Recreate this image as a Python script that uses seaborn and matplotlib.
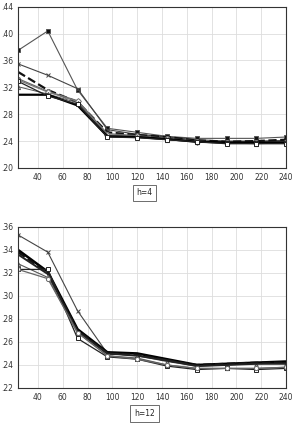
import numpy as np
import pandas as pd
import seaborn as sns
import matplotlib.pyplot as plt
from matplotlib.ticker import FuncFormatter

sns.set_theme(style="whitegrid")
plt.rcParams['font.family'] = ['DejaVu Sans']

horizons = [24, 48, 72, 96, 120, 144, 168, 192, 216, 240]

# h=4 panel
h4_sq_filled = [0.375, 0.404, 0.316, 0.259, 0.253, 0.247, 0.244, 0.244, 0.244, 0.246]
h4_cross = [0.355, 0.338, 0.318, 0.257, 0.250, 0.246, 0.242, 0.240, 0.240, 0.241]
h4_dashed = [0.343, 0.316, 0.298, 0.253, 0.249, 0.246, 0.241, 0.239, 0.240, 0.242]
h4_circle = [0.333, 0.314, 0.300, 0.251, 0.248, 0.244, 0.240, 0.238, 0.238, 0.239]
h4_diamond = [0.331, 0.313, 0.299, 0.249, 0.247, 0.243, 0.239, 0.237, 0.237, 0.238]
h4_triangle = [0.321, 0.310, 0.297, 0.248, 0.246, 0.242, 0.238, 0.237, 0.236, 0.237]
h4_thick = [0.309, 0.309, 0.293, 0.247, 0.246, 0.243, 0.239, 0.238, 0.238, 0.238]
h4_sq_open = [0.329, 0.307, 0.295, 0.246, 0.245, 0.242, 0.239, 0.236, 0.236, 0.236]

# h=12 panel
h12_cross = [0.353, 0.338, 0.287, 0.250, 0.248, 0.243, 0.239, 0.240, 0.241, 0.242]
h12_thick = [0.340, 0.321, 0.271, 0.251, 0.250, 0.245, 0.240, 0.241, 0.242, 0.243]
h12_dashed = [0.338, 0.320, 0.270, 0.250, 0.249, 0.244, 0.240, 0.241, 0.242, 0.242]
h12_thick2 = [0.336, 0.319, 0.269, 0.250, 0.248, 0.244, 0.239, 0.240, 0.241, 0.241]
h12_triangle = [0.328, 0.316, 0.268, 0.248, 0.246, 0.240, 0.237, 0.237, 0.237, 0.238]
h12_sq_open = [0.323, 0.323, 0.263, 0.247, 0.245, 0.239, 0.236, 0.237, 0.236, 0.237]
h12_circle = [0.323, 0.315, 0.268, 0.248, 0.245, 0.240, 0.237, 0.237, 0.237, 0.238]

# (values, color, lw, linestyle, marker, markerfacecolor)
top_series = [
    (h4_sq_filled, '#555555', 0.8, '-', 's', '#111111'),
    (h4_cross, '#444444', 0.8, '-', 'x', 'none'),
    (h4_dashed, '#111111', 1.6, '--', None, 'none'),
    (h4_circle, '#666666', 0.9, '-', 'o', 'white'),
    (h4_diamond, '#777777', 0.9, '-', 'D', 'white'),
    (h4_triangle, '#555555', 0.7, '-', '^', 'white'),
    (h4_thick, '#000000', 1.6, '-', None, 'none'),
    (h4_sq_open, '#222222', 0.9, '-', 's', 'white'),
]
bottom_series = [
    (h12_cross, '#444444', 0.8, '-', 'x', 'none'),
    (h12_thick, '#000000', 1.8, '-', None, 'none'),
    (h12_dashed, '#111111', 1.6, '--', None, 'none'),
    (h12_thick2, '#222222', 1.4, '-', None, 'none'),
    (h12_triangle, '#555555', 0.8, '-', '^', 'white'),
    (h12_sq_open, '#222222', 0.9, '-', 's', 'white'),
    (h12_circle, '#666666', 0.9, '-', 'o', 'white'),
]

fig = plt.figure(figsize=(2.95, 4.24), dpi=100)
ax1 = fig.add_axes([0.061, 0.604, 0.909, 0.38])
ax2 = fig.add_axes([0.061, 0.085, 0.909, 0.38])

fmt = FuncFormatter(lambda v, p: ("%.2f" % v).lstrip('0'))

for ax, series, ylim, yticks, label, ly in [
    (ax1, top_series, (0.20, 0.44), np.arange(0.20, 0.441, 0.04), 'h=4', 0.545),
    (ax2, bottom_series, (0.22, 0.36), np.arange(0.22, 0.361, 0.02), 'h=12', 0.025),
]:
    for vals, c, lw, ls, mk, mfc in series:
        df = pd.DataFrame({'h': horizons, 'v': vals})
        sns.lineplot(data=df, x='h', y='v', ax=ax, color=c, lw=lw, linestyle=ls,
                     marker=mk, markersize=3, markerfacecolor=mfc,
                     markeredgecolor=c, markeredgewidth=0.7)
    ax.set_xlim(24, 240)
    ax.set_ylim(*ylim)
    ax.set_xticks(range(40, 241, 20))
    ax.set_yticks(yticks)
    ax.yaxis.set_major_formatter(fmt)
    ax.set_xlabel('')
    ax.set_ylabel('')
    ax.grid(True, color='#dddddd', lw=0.6)
    for s in ax.spines.values():
        s.set_color('#333333')
        s.set_linewidth(0.8)
    ax.tick_params(labelsize=5.5, length=2, pad=1.5, colors='#333333')
    fig.text(0.49, ly, label, fontsize=5.5, ha='center', va='center',
             bbox=dict(boxstyle='square,pad=0.5', fc='white', ec='#555555', lw=0.6))

fig.savefig('out.png', dpi=100)
